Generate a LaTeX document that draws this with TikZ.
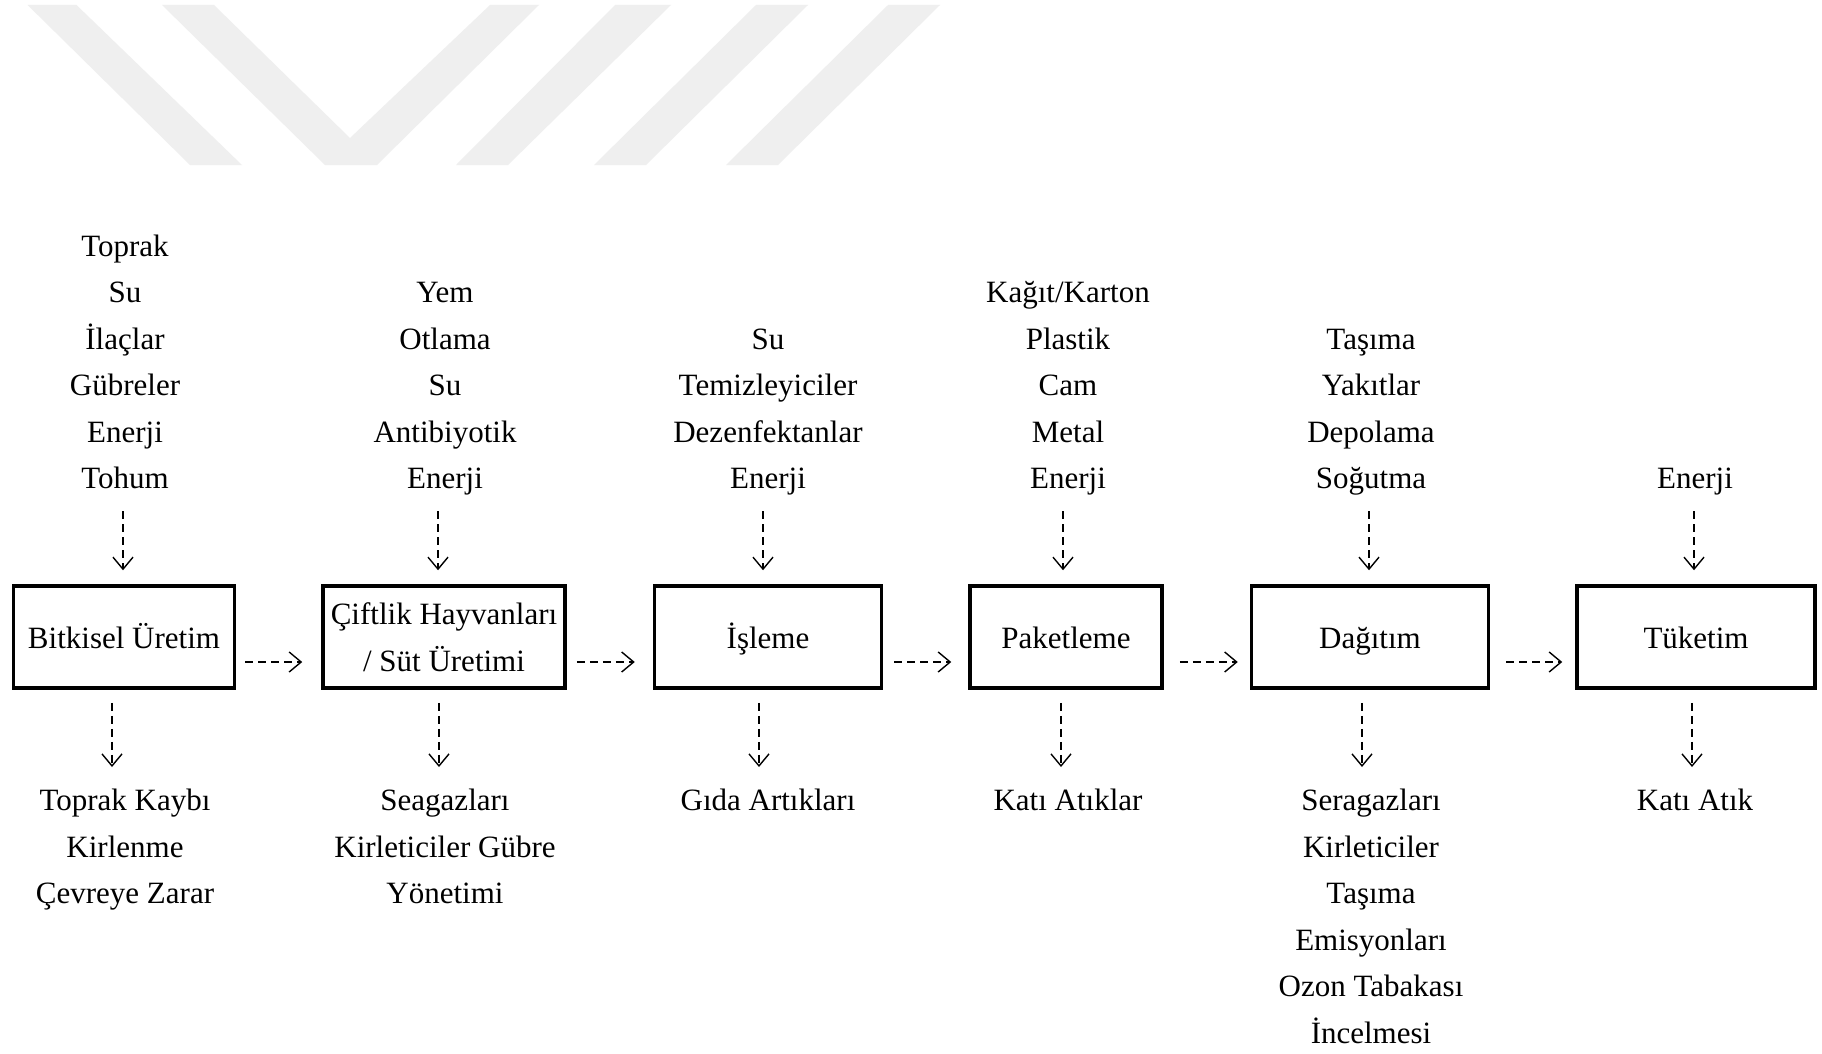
\documentclass[tikz,border=0pt]{standalone}
\usepackage{fontspec}
\setmainfont{Liberation Serif}
\usetikzlibrary{arrows.meta,calc}
\definecolor{wm}{RGB}{239,239,239}
\tikzset{
  box/.style={draw=black,line width=3.5pt,minimum height=102pt,inner sep=0pt,align=center,font=\fontsize{31}{46.5}\selectfont},
  onebox/.style={box,text height=26pt,text depth=4pt},
  txt/.style={inner sep=0pt,align=center,font=\fontsize{31}{46.5}\selectfont},
  toptxt/.style={txt,anchor=south,text depth=0pt},
  bottxt/.style={txt,anchor=north},
  arr/.style={line width=1.4pt,dash pattern=on 8pt off 5pt,-{Straight Barb[length=12pt,width=20pt]}}
}
\begin{document}
\begin{tikzpicture}[x=1pt,y=-1pt]
\useasboundingbox (0,0) rectangle (1822,1054);
\fill[white] (0,0) rectangle (1822,1054);
% watermark
\fill[wm] (27.6,5) -- (76.5,5) -- (242,165) -- (190,165) -- cycle;
\fill[wm] (162,5) -- (214,5) -- (350,138) -- (490,5) -- (539,5) -- (377,165) -- (325,165) -- cycle;
\fill[wm] (615,5) -- (671,5) -- (508,165) -- (456,165) -- cycle;
\fill[wm] (756,5) -- (808,5) -- (646,165) -- (594,165) -- cycle;
\fill[wm] (888,5) -- (940,5) -- (778,165) -- (726,165) -- cycle;
% boxes
\node[onebox,minimum width=221pt] (b1) at (124,637) {Bitkisel Üretim};
\node[box,minimum width=242pt] (b2) at (444,637) {Çiftlik Hayvanları\\/ Süt Üretimi};
\node[onebox,minimum width=227pt] (b3) at (768,637) {İşleme};
\node[onebox,minimum width=192pt] (b4) at (1066,637) {Paketleme};
\node[onebox,minimum width=237pt] (b5) at (1370,637) {Dağıtım};
\node[onebox,minimum width=238pt] (b6) at (1696,637) {Tüketim};
% inputs
\node[toptxt] (t1) at (125,489) {Toprak\\Su\\İlaçlar\\Gübreler\\Enerji\\Tohum};
\node[toptxt] (t2) at (445,489) {Yem\\Otlama\\Su\\Antibiyotik\\Enerji};
\node[toptxt] (t3) at (768,489) {Su\\Temizleyiciler\\Dezenfektanlar\\Enerji};
\node[toptxt] (t4) at (1068,489) {Kağıt/Karton\\Plastik\\Cam\\Metal\\Enerji};
\node[toptxt] (t5) at (1371,489) {Taşıma\\Yakıtlar\\Depolama\\Soğutma};
\node[toptxt] (t6) at (1695,489) {Enerji};
% outputs
\node[bottxt] (u1) at (125,789) {Toprak Kaybı\\Kirlenme\\Çevreye Zarar};
\node[bottxt] (u2) at (445,789) {Seagazları\\Kirleticiler Gübre\\Yönetimi};
\node[bottxt] (u3) at (768,789) {Gıda Artıkları};
\node[bottxt] (u4) at (1068,789) {Katı Atıklar};
\node[bottxt] (u5) at (1371,789) {Seragazları\\Kirleticiler\\Taşıma\\Emisyonları\\Ozon Tabakası\\İncelmesi};
\node[bottxt] (u6) at (1695,789) {Katı Atık};
% top arrows
\draw[arr] ($(t1.south)+(-2,22)$) -- ($(t1.south |- b1.north)+(-2,-14)$);
\draw[arr] ($(t2.south)+(-7,22)$) -- ($(t2.south |- b2.north)+(-7,-14)$);
\draw[arr] ($(t3.south)+(-5,22)$) -- ($(t3.south |- b3.north)+(-5,-14)$);
\draw[arr] ($(t4.south)+(-5,22)$) -- ($(t4.south |- b4.north)+(-5,-14)$);
\draw[arr] ($(t5.south)+(-2,22)$) -- ($(t5.south |- b5.north)+(-2,-14)$);
\draw[arr] ($(t6.south)+(-1,22)$) -- ($(t6.south |- b6.north)+(-1,-14)$);
% bottom arrows
\draw[arr] ($(u1.north |- b1.south)+(-13,13)$) -- ($(u1.north)+(-13,-22)$);
\draw[arr] ($(u2.north |- b2.south)+(-6,13)$) -- ($(u2.north)+(-6,-22)$);
\draw[arr] ($(u3.north |- b3.south)+(-9,13)$) -- ($(u3.north)+(-9,-22)$);
\draw[arr] ($(u4.north |- b4.south)+(-7,13)$) -- ($(u4.north)+(-7,-22)$);
\draw[arr] ($(u5.north |- b5.south)+(-9,13)$) -- ($(u5.north)+(-9,-22)$);
\draw[arr] ($(u6.north |- b6.south)+(-3,13)$) -- ($(u6.north)+(-3,-22)$);
% horizontal arrows
\draw[arr] ($(b1.east)+(9,25)$) -- ($(b2.west)+(-19,25)$);
\draw[arr] ($(b2.east)+(10,25)$) -- ($(b3.west)+(-18,25)$);
\draw[arr] ($(b3.east)+(11,25)$) -- ($(b4.west)+(-17,25)$);
\draw[arr] ($(b4.east)+(16,25)$) -- ($(b5.west)+(-12,25)$);
\draw[arr] ($(b5.east)+(16,25)$) -- ($(b6.west)+(-13,25)$);
\end{tikzpicture}
\end{document}
